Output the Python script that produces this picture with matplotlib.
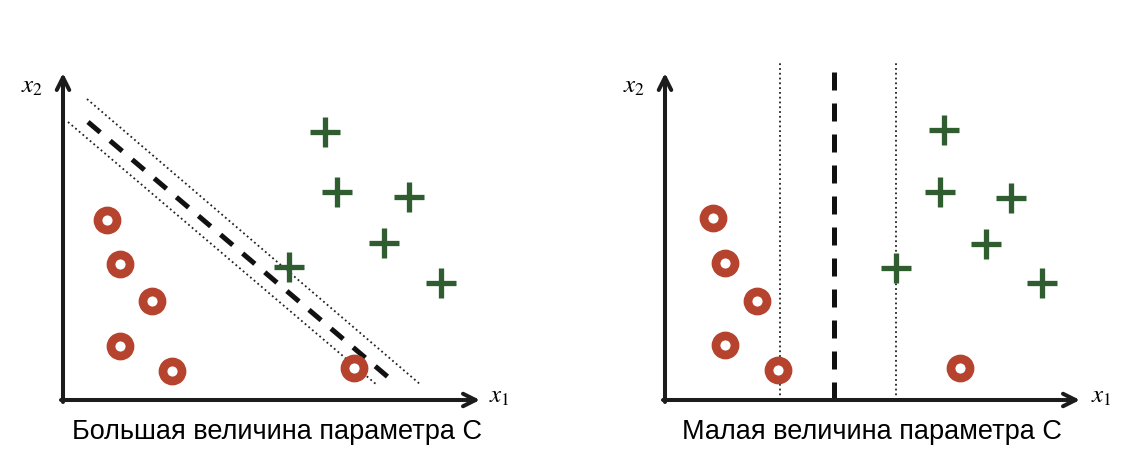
import matplotlib.pyplot as plt
from matplotlib import font_manager

plt.rcParams['mathtext.fontset'] = 'stix'

names = {f.name for f in font_manager.fontManager.ttflist}
cap_font = 'Liberation Sans Narrow' if 'Liberation Sans Narrow' in names else 'Liberation Sans'

# данные (в пикселях относительно начала координат панели)
left_circles_x = [44, 57, 89, 57, 109, 291]
left_circles_y = [180, 136, 99, 54, 29, 32]
left_plus_x = [262, 274, 346, 321, 226, 378]
left_plus_y = [268, 208, 203, 157, 133, 117]
left_sep_x = [25, 332]
left_sep_y = [278, 17]
left_up_x = [24, 358]
left_up_y = [301, 15]
left_low_x = [5, 314]
left_low_y = [278, 15]

right_circles_x = [48, 60, 92, 60, 113, 295]
right_circles_y = [182, 137, 99, 55, 30, 32]
right_plus_x = [279, 275, 346, 321, 231, 377]
right_plus_y = [270, 208, 202, 156, 132, 117]
right_sep_x = 169
right_margin_x = [115, 231]
line_top = 338

captions = ['Большая величина параметра C', 'Малая величина параметра C']

RED = '#b5432e'
GREEN = '#2f5d30'
AX = '#1c1c1c'

fig = plt.figure(figsize=(11.43, 4.62), dpi=100)
ax1 = fig.add_axes([0, 0, 571 / 1143, 1])
ax2 = fig.add_axes([571 / 1143, 0, 572 / 1143, 1])
ax1.set_xlim(-63, 508)
ax2.set_xlim(-94, 478)


def draw_panel(ax, cx, cy, px, py, xlen, caption, cap_x):
    ax.set_ylim(-62, 400)
    ax.axis('off')
    arrow = dict(arrowstyle='->, head_length=0.9, head_width=0.45', lw=2.9,
                 color=AX, shrinkA=0, shrinkB=0)
    ax.annotate('', xy=(0, 327), xytext=(0, -2), arrowprops=arrow)
    ax.annotate('', xy=(xlen, 0), xytext=(-2, 0), arrowprops=arrow)
    ax.plot(cx, cy, 'o', ms=13.7, mfc='white', mec=RED, mew=6.3, ls='none', zorder=5)
    ax.plot(px, py, '+', ms=21, mec=GREEN, mew=3.8, ls='none', zorder=5)
    ax.text(-20, 307, '$x_2$', fontsize=18, ha='right', va='baseline')
    ax.text(426, -3, '$x_1$', fontsize=18, ha='left', va='baseline')
    ax.text(cap_x, -39, caption, fontsize=19.5, family=cap_font, ha='center', va='baseline')


draw_panel(ax1, left_circles_x, left_circles_y, left_plus_x, left_plus_y, 417, captions[0], 214)
ax1.plot(left_sep_x, left_sep_y, color='#111111', lw=3.6, ls=(0, (3.2, 2.6)))
ax1.plot(left_up_x, left_up_y, color='#222222', lw=1.3, ls=':')
ax1.plot(left_low_x, left_low_y, color='#222222', lw=1.3, ls=':')

draw_panel(ax2, right_circles_x, right_circles_y, right_plus_x, right_plus_y, 415, captions[1], 207)
ax2.plot([right_sep_x, right_sep_x], [0, line_top], color='#111111', lw=3.6, ls=(0, (3.6, 2.6)))
for mx in right_margin_x:
    ax2.plot([mx, mx], [0, line_top], color='#222222', lw=1.3, ls=':')

fig.savefig('out.png', dpi=100)
